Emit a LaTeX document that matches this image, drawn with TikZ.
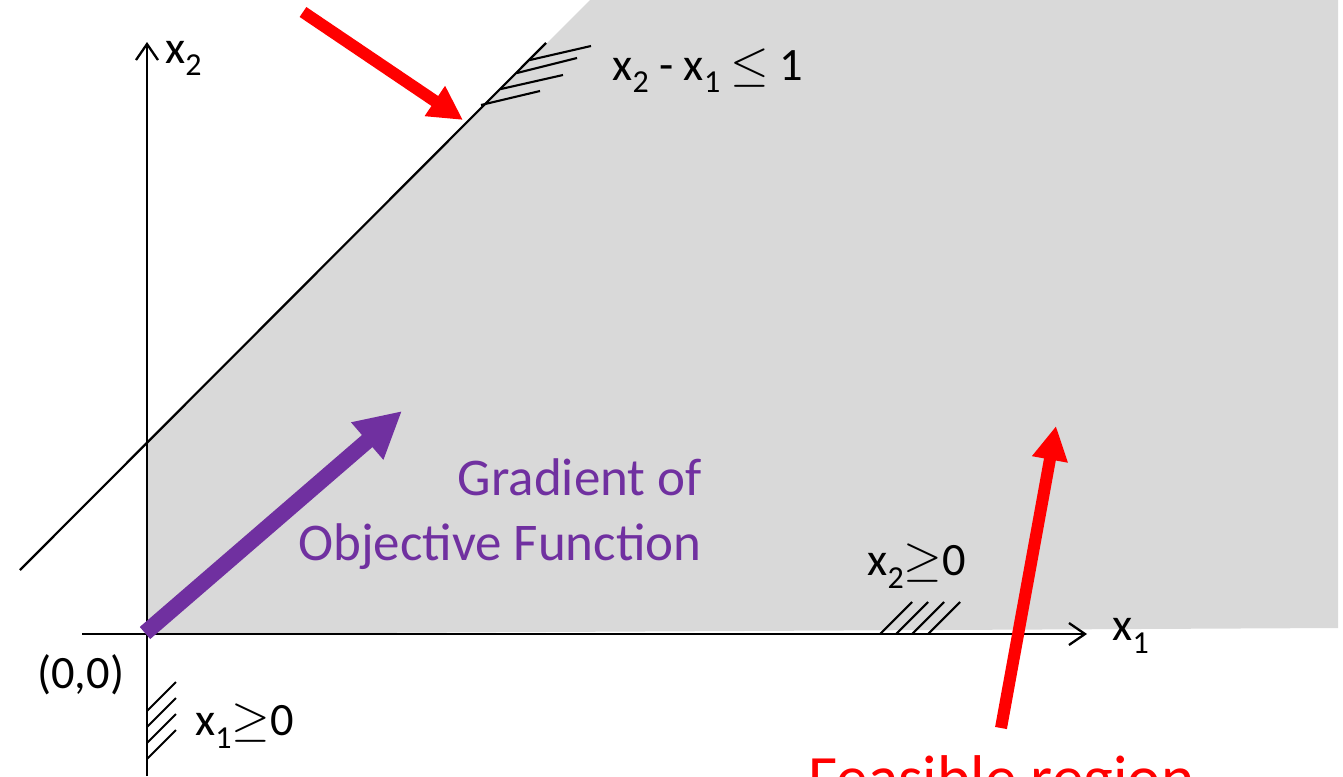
\documentclass[tikz,border=0pt]{standalone}
\usepackage{fontspec}
\setmainfont{Carlito}
\usetikzlibrary{arrows.meta}
\definecolor{feas}{HTML}{D9D9D9}
\definecolor{grad}{HTML}{7030A0}
\newcommand{\lowsub}[1]{\raisebox{-0.28em}{\fontsize{16}{18}\selectfont #1}}
\begin{document}
\begin{tikzpicture}[x=0.5pt,y=-0.5pt,
  axis/.style={line width=1.15pt,-{Straight Barb[length=8pt,width=11pt]}},
  hatch/.style={line width=1.05pt},
  lbl/.style={anchor=base west,inner sep=0pt,font=\fontsize{23.2}{27}\selectfont},
  redarrow/.style={draw=red,line width=6pt,-{Triangle[length=17pt,width=17pt]}},
  gradarrow/.style={draw=grad,line width=8pt,-{Triangle[length=23pt,width=23pt]}},
  gradtext/.style={anchor=base east,inner sep=0pt,text=grad,font=\fontsize{26.5}{32}\selectfont},
 ]
\useasboundingbox (0,0) rectangle (1343,776);
% feasible region
\fill[feas] (147,634) -- (147,443) -- (590,0) -- (1338,0) -- (1338,628) -- cycle;
% coordinates
\coordinate (O) at (147,634);
\coordinate (x1s) at (82,634);
\coordinate (x1e) at (1087,634);
\coordinate (x2s) at (147,776);
\coordinate (x2e) at (147,42);
\coordinate (c1) at (20,570);
\coordinate (c2) at (546,43);
% axes
\draw[axis] (x1s) -- (x1e);
\draw[axis] (x2s) -- (x2e);
% constraint line
\draw[line width=1.1pt] (c1) -- (c2);
% hatching of x2 - x1 <= 1
\draw[hatch] (481,105) -- (540,91);
\draw[hatch] (501,89) -- (563,75);
\draw[hatch] (517,73) -- (577,58);
\draw[hatch] (530,60) -- (591,46);
% hatching of x1 >= 0
\draw[hatch] (147,711) -- (176,682);
\draw[hatch] (147,727) -- (176,698);
\draw[hatch] (147,743) -- (176,714);
\draw[hatch] (147,759) -- (176,730);
% hatching of x2 >= 0
\draw[hatch] (880,634) -- (912,602);
\draw[hatch] (896,634) -- (928,602);
\draw[hatch] (912,634) -- (944,602);
\draw[hatch] (928,634) -- (960,602);
% labels
\node[lbl] (x2lab) at (165,63) {x\lowsub{2}};
\node[lbl] (x1lab) at (1112,640) {x\lowsub{1}};
\node[lbl] (conlab) at (612,80) {x\lowsub{2} - x\lowsub{1} $\leq$ 1};
\node[lbl] (origin) at (37,688) {(0,0)};
\node[lbl] (x1pos) at (195,735) {x\lowsub{1}$\geq$0};
\node[lbl] (x2pos) at (867,575) {x\lowsub{2}$\geq$0};
\node[gradtext] (g1) at (702,495) {Gradient of};
\node[gradtext] (g2) at (702,560) {Objective Function};
\node[anchor=base west,inner sep=0pt,text=red,font=\fontsize{31.6}{37}\selectfont] (feaslab) at (808,799) {Feasible region};
% arrows
\coordinate (ra1s) at (303,12);
\coordinate (ra1t) at (463,120);
\coordinate (ra2s) at (1001,728);
\coordinate (ra2t) at (1056,426);
\coordinate (gs) at (145,633);
\coordinate (gt) at (402,411);
\draw[redarrow] (ra1s) -- (ra1t);
\draw[redarrow] (ra2s) -- (ra2t);
\draw[gradarrow] (gs) -- (gt);
\end{tikzpicture}
\end{document}
